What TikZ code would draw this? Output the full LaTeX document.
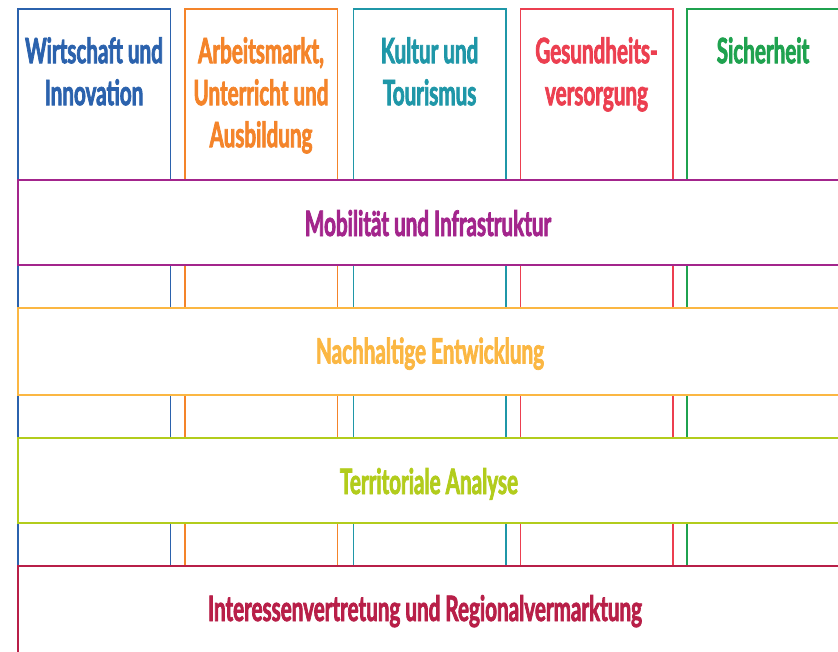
\documentclass[tikz,border=0pt]{standalone}
\usepackage{fontspec}
\newfontfamily\labfont[FakeStretch=0.59,FakeBold=2]{Lato Bold}
\definecolor{cblue}{HTML}{2B62AD}
\definecolor{corange}{HTML}{F4842A}
\definecolor{cteal}{HTML}{1F97A8}
\definecolor{cred}{HTML}{EC3F50}
\definecolor{cgreen}{HTML}{1FA24F}
\definecolor{cpurple}{HTML}{A3258C}
\definecolor{cyellow}{HTML}{FBB743}
\definecolor{clime}{HTML}{B2CC1C}
\definecolor{ccrimson}{HTML}{B81F48}
\begin{document}
\begin{tikzpicture}[x=1pt,y=-1pt,
  colbox/.style={draw=#1,line width=1.6pt,fill=none},
  bandbox/.style={draw=#1,line width=1.8pt,fill=white},
  collabel/.style={text=#1,font=\labfont\fontsize{35}{42}\selectfont,align=center,anchor=north,inner sep=0pt},
  bandlabel/.style={text=#1,font=\labfont\fontsize{35}{42}\selectfont,anchor=base,inner sep=0pt}]
\useasboundingbox[fill=white] (0,0) rectangle (838,651);
\begin{scope}
\clip (0,0) rectangle (838,651);
% columns
\draw[colbox=cblue] (18,9) rectangle (170.3,660);
\draw[colbox=corange] (185,9) rectangle (337.3,660);
\draw[colbox=cteal] (353.3,9) rectangle (506,660);
\draw[colbox=cred] (520.3,9) rectangle (672.7,660);
\draw[colbox=cgreen] (687,9) rectangle (841,660);
% bands
\draw[bandbox=cpurple] (18,180) rectangle (841,265);
\draw[bandbox=cyellow] (18,307.7) rectangle (841,395.3);
\draw[bandbox=clime] (18,437.7) rectangle (841,523.3);
\draw[bandbox=ccrimson] (18,566) rectangle (841,655);
\end{scope}
% column labels
\node[collabel=cblue] (c1) at (94,37) {Wirtschaft und\\Innovation};
\node[collabel=corange] (c2) at (261,37) {Arbeitsmarkt,\\Unterricht und\\Ausbildung};
\node[collabel=cteal] (c3) at (429.6,37) {Kultur und\\Tourismus};
\node[collabel=cred] (c4) at (596.5,37) {Gesundheits-\\versorgung};
\node[collabel=cgreen] (c5) at (763,37) {Sicherheit};
% band labels
\node[bandlabel=cpurple] (b1) at (428,236) {Mobilität und Infrastruktur};
\node[bandlabel=cyellow] (b2) at (430,363.5) {Nachhaltige Entwicklung};
\node[bandlabel=clime] (b3) at (429,494) {Territoriale Analyse};
\node[bandlabel=ccrimson] (b4) at (425,621) {Interessenvertretung und Regionalvermarktung};
\end{tikzpicture}
\end{document}
